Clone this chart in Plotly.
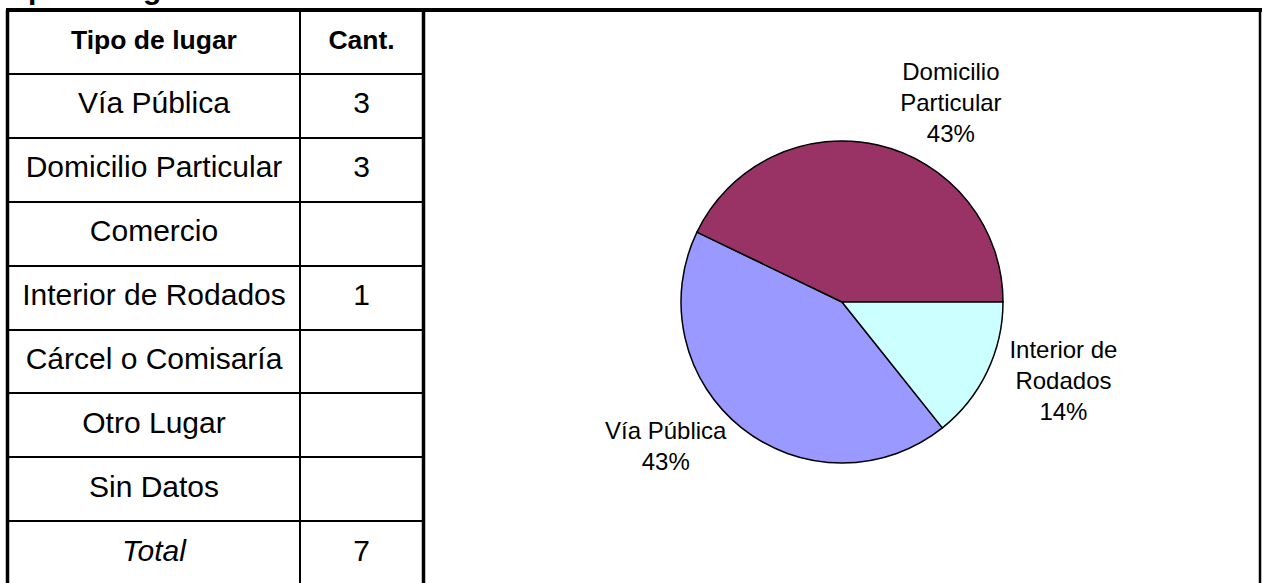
import textwrap
import plotly.graph_objects as go

# ---- data ----
title_text = "Tipo de lugar de ocurrencia"
header = ["Tipo de lugar", "Cant."]
lugares = ["Vía Pública", "Domicilio Particular", "Comercio", "Interior de Rodados",
           "Cárcel o Comisaría", "Otro Lugar", "Sin Datos"]
cantidades = [3, 3, None, 1, None, None, None]
total_label = "Total"
total_value = 7
slice_colors = {"Vía Pública": "#9999FF", "Domicilio Particular": "#993366",
                "Interior de Rodados": "#CCFFFF"}

FONT = "Liberation Sans, Arial, sans-serif"
W, H = 1262, 583

# ---- table rows ----
row_keys = [header[0]] + lugares + [total_label]
col1_text = [f"<b>{header[0]}</b>"] + lugares + [f"<i>{total_label}</i>"]
col2_text = [f"<b>{header[1]}</b>"] + ["" if v is None else str(v) for v in cantidades] + [str(total_value)]
sizes = [26.5] + [30] * (len(row_keys) - 1)

fig = go.Figure()
fig.add_trace(go.Scatter(x=["c1"] * len(row_keys), y=row_keys, text=col1_text, mode="text",
                         textposition="middle center",
                         textfont=dict(family=FONT, size=sizes, color="black"),
                         hoverinfo="skip", showlegend=False, xaxis="x", yaxis="y"))
fig.add_trace(go.Scatter(x=["c2"] * len(row_keys), y=row_keys, text=col2_text, mode="text",
                         textposition="middle center",
                         textfont=dict(family=FONT, size=sizes, color="black"),
                         hoverinfo="skip", showlegend=False, xaxis="x2", yaxis="y"))

# ---- pie ----
pie_labels = [l for l, v in zip(lugares, cantidades) if v]
pie_values = [v for v in cantidades if v]
pie_text = ["<br>".join(textwrap.wrap(l, 11)) for l in pie_labels]
fig.add_trace(go.Pie(labels=pie_labels, values=pie_values, text=pie_text,
                     texttemplate="%{text}<br>%{percent:.0%}", textposition="outside",
                     textfont=dict(family=FONT, size=24, color="black"),
                     marker=dict(colors=[slice_colors[l] for l in pie_labels],
                                 line=dict(color="black", width=1.5)),
                     sort=False, direction="clockwise", rotation=141.43,
                     domain=dict(x=[(842 - 161) / W, (842 + 161) / W],
                                 y=[(H - 302 - 161) / H, (H - 302 + 161) / H]),
                     showlegend=False, hoverinfo="skip"))

ax_common = dict(type="category", showticklabels=False, ticks="", showgrid=False,
                 zeroline=False, showline=False, range=[-0.5, 0.5], fixedrange=True)
fig.update_layout(
    width=W, height=H, margin=dict(l=0, r=0, t=0, b=0),
    paper_bgcolor="white", plot_bgcolor="white",
    xaxis=dict(domain=[8 / W, 300 / W], **ax_common),
    xaxis2=dict(domain=[300 / W, 423 / W], anchor="y", **ax_common),
    yaxis=dict(type="category", domain=[0, 1 - 10 / H], range=[8.467, -0.5],
               tickson="boundaries", showgrid=True, gridcolor="black", gridwidth=2,
               showticklabels=False, ticks="", zeroline=False, showline=False, fixedrange=True),
)

# borders
line_specs = [
    dict(x0=7.5 / W, x1=7.5 / W, y0=0, y1=1 - 10 / H, w=3.5),
    dict(x0=300 / W, x1=300 / W, y0=0, y1=1 - 10 / H, w=2),
    dict(x0=423.5 / W, x1=423.5 / W, y0=0, y1=1 - 10 / H, w=3.5),
    dict(x0=1260 / W, x1=1260 / W, y0=0, y1=1 - 10 / H, w=2.5),
    dict(x0=6 / W, x1=1, y0=1 - 10 / H, y1=1 - 10 / H, w=4),
]
for s in line_specs:
    fig.add_shape(type="line", xref="paper", yref="paper", x0=s["x0"], x1=s["x1"],
                  y0=s["y0"], y1=s["y1"], line=dict(color="black", width=s["w"]))

fig.add_annotation(text=f"<b>{title_text}</b>", xref="paper", yref="paper", x=0, y=1 - 7 / H,
                   xanchor="left", yanchor="bottom", showarrow=False,
                   font=dict(family=FONT, size=30, color="black"))

fig.write_html("out.html", config={"displayModeBar": False},
               post_script="document.body.style.margin='0';")
